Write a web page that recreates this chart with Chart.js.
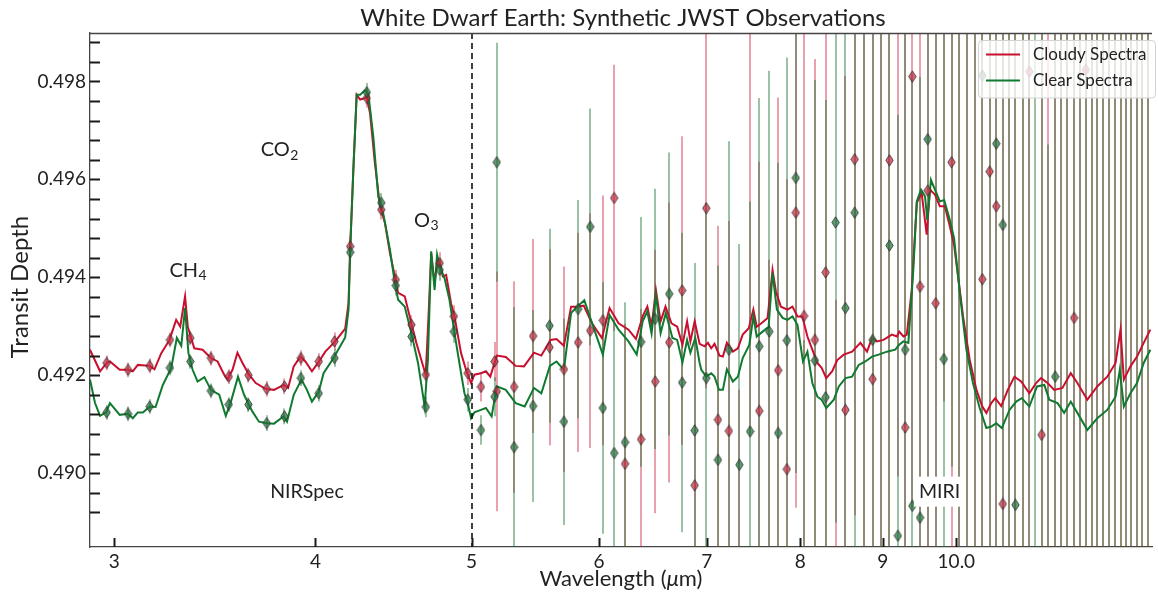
<!DOCTYPE html>
<html>
<head>
<meta charset="utf-8">
<script src="https://cdn.jsdelivr.net/npm/chart.js@4.4.1/dist/chart.umd.min.js"></script>
<style>
	html, body { margin: 0; padding: 0; background: #fff; }
	canvas { display: block; }
</style>
</head>
<body>
<canvas id="spectra" width="1158" height="594"></canvas>
<script>
// model spectra, wavelength in micron / transit depth
const cloudyWave = [
	2.898, 2.940, 2.968, 2.982, 3.024, 3.060, 3.081, 3.103, 3.156, 3.178,
	3.209, 3.247, 3.278, 3.297, 3.320, 3.333, 3.349, 3.364, 3.404, 3.445,
	3.478, 3.511, 3.527, 3.553, 3.578, 3.604, 3.638, 3.673, 3.725, 3.770,
	3.823, 3.847, 3.878, 3.915, 3.943, 3.980, 4.019, 4.057, 4.115, 4.174,
	4.194, 4.204, 4.223, 4.243, 4.264, 4.294, 4.304, 4.325, 4.355, 4.387,
	4.418, 4.450, 4.481, 4.502, 4.545, 4.588, 4.621, 4.654, 4.683, 4.703,
	4.720, 4.743, 4.760, 4.777, 4.799, 4.822, 4.856, 4.880, 4.926, 4.961,
	4.997, 5.021, 5.068, 5.104, 5.136, 5.184, 5.251, 5.326, 5.390, 5.467,
	5.525, 5.598, 5.646, 5.706, 5.765, 5.815, 5.870, 5.940, 6.025, 6.091,
	6.170, 6.258, 6.325, 6.386, 6.429, 6.468, 6.508, 6.552, 6.598, 6.655,
	6.709, 6.760, 6.805, 6.837, 6.879, 6.928, 6.977, 7.011, 7.044, 7.077,
	7.128, 7.162, 7.203, 7.265, 7.317, 7.368, 7.432, 7.481, 7.517, 7.581,
	7.635, 7.689, 7.726, 7.781, 7.855, 7.911, 7.968, 8.024, 8.082, 8.139,
	8.198, 8.248, 8.303, 8.374, 8.434, 8.513, 8.615, 8.718, 8.801, 8.864,
	8.927, 9.011, 9.119, 9.185, 9.215, 9.271, 9.316, 9.382, 9.450, 9.516,
	9.585, 9.629, 9.699, 9.767, 9.837, 9.907, 9.967, 10.025, 10.096, 10.193,
	10.291, 10.378, 10.438, 10.512, 10.572, 10.662, 10.763, 10.866, 10.970, 11.100,
	11.207, 11.286, 11.393, 11.502, 11.637, 11.777, 11.889, 12.059, 12.232, 12.407,
	12.556, 12.645, 12.705, 12.826, 12.947, 13.071, 13.196,
];
const cloudyDepth = [
	0.49252, 0.49208, 0.49225, 0.49228, 0.49211, 0.49211, 0.49208, 0.49221, 0.49219, 0.49212,
	0.49245, 0.49272, 0.49313, 0.49299, 0.49361, 0.49299, 0.49276, 0.49255, 0.49252, 0.49235,
	0.49228, 0.49201, 0.49191, 0.49211, 0.49246, 0.49225, 0.49201, 0.49184, 0.49172, 0.49170,
	0.49180, 0.49174, 0.49218, 0.49238, 0.49228, 0.49208, 0.49227, 0.49248, 0.49269, 0.49295,
	0.49347, 0.49463, 0.49620, 0.49773, 0.49763, 0.49766, 0.49769, 0.49735, 0.49633, 0.49545,
	0.49511, 0.49449, 0.49402, 0.49368, 0.49361, 0.49306, 0.49266, 0.49231, 0.49201, 0.49327,
	0.49449, 0.49388, 0.49429, 0.49432, 0.49402, 0.49405, 0.49347, 0.49320, 0.49245, 0.49211,
	0.49184, 0.49201, 0.49204, 0.49208, 0.49197, 0.49240, 0.49237, 0.49219, 0.49218, 0.49246,
	0.49240, 0.49272, 0.49274, 0.49260, 0.49340, 0.49340, 0.49342, 0.49306, 0.49276, 0.49337,
	0.49306, 0.49293, 0.49274, 0.49320, 0.49340, 0.49299, 0.49374, 0.49310, 0.49340, 0.49306,
	0.49299, 0.49262, 0.49310, 0.49269, 0.49310, 0.49264, 0.49259, 0.49266, 0.49255, 0.49264,
	0.49240, 0.49238, 0.49266, 0.49248, 0.49255, 0.49283, 0.49296, 0.49334, 0.49299, 0.49308,
	0.49317, 0.49415, 0.49371, 0.49340, 0.49334, 0.49340, 0.49320, 0.49320, 0.49279, 0.49252,
	0.49225, 0.49215, 0.49194, 0.49208, 0.49231, 0.49242, 0.49248, 0.49266, 0.49248, 0.49276,
	0.49269, 0.49272, 0.49283, 0.49279, 0.49289, 0.49279, 0.49283, 0.49374, 0.49552, 0.49572,
	0.49487, 0.49579, 0.49569, 0.49545, 0.49545, 0.49504, 0.49466, 0.49402, 0.49320, 0.49231,
	0.49170, 0.49136, 0.49123, 0.49143, 0.49153, 0.49137, 0.49170, 0.49197, 0.49187, 0.49163,
	0.49184, 0.49194, 0.49184, 0.49170, 0.49174, 0.49204, 0.49184, 0.49150, 0.49177, 0.49197,
	0.49225, 0.49293, 0.49191, 0.49218, 0.49238, 0.49266, 0.49293,
];
const clearWave = [
	2.898, 2.919, 2.940, 2.965, 2.982, 3.024, 3.060, 3.081, 3.103, 3.126,
	3.156, 3.183, 3.216, 3.255, 3.281, 3.302, 3.320, 3.336, 3.356, 3.380,
	3.413, 3.445, 3.486, 3.519, 3.545, 3.581, 3.612, 3.655, 3.690, 3.734,
	3.770, 3.823, 3.841, 3.878, 3.921, 3.952, 3.980, 4.019, 4.047, 4.105,
	4.174, 4.194, 4.204, 4.223, 4.243, 4.264, 4.294, 4.314, 4.345, 4.376,
	4.407, 4.450, 4.481, 4.502, 4.545, 4.588, 4.632, 4.676, 4.698, 4.720,
	4.743, 4.760, 4.777, 4.811, 4.845, 4.880, 4.926, 4.950, 4.973, 4.997,
	5.021, 5.068, 5.104, 5.146, 5.184, 5.251, 5.326, 5.395, 5.467, 5.525,
	5.593, 5.646, 5.706, 5.765, 5.815, 5.875, 5.931, 6.033, 6.091, 6.170,
	6.258, 6.332, 6.386, 6.429, 6.468, 6.508, 6.552, 6.601, 6.664, 6.709,
	6.760, 6.805, 6.837, 6.885, 6.928, 6.945, 6.994, 7.044, 7.077, 7.122,
	7.162, 7.203, 7.265, 7.317, 7.368, 7.438, 7.481, 7.517, 7.581, 7.646,
	7.689, 7.737, 7.800, 7.855, 7.911, 7.968, 8.031, 8.082, 8.139, 8.198,
	8.248, 8.303, 8.393, 8.453, 8.534, 8.615, 8.697, 8.780, 8.864, 8.948,
	9.055, 9.163, 9.215, 9.271, 9.337, 9.403, 9.450, 9.507, 9.562, 9.593,
	9.643, 9.699, 9.767, 9.827, 9.907, 9.967, 10.049, 10.145, 10.240, 10.339,
	10.438, 10.512, 10.587, 10.672, 10.789, 10.893, 10.979, 11.100, 11.222, 11.340,
	11.420, 11.556, 11.666, 11.777, 11.889, 12.059, 12.232, 12.407, 12.556, 12.632,
	12.705, 12.826, 12.947, 13.071, 13.196,
];
const clearDepth = [
	0.49191, 0.49143, 0.49117, 0.49124, 0.49143, 0.49119, 0.49121, 0.49112, 0.49124, 0.49124,
	0.49136, 0.49135, 0.49180, 0.49215, 0.49276, 0.49260, 0.49337, 0.49245, 0.49211, 0.49187,
	0.49196, 0.49170, 0.49160, 0.49117, 0.49146, 0.49197, 0.49160, 0.49126, 0.49105, 0.49102,
	0.49101, 0.49116, 0.49105, 0.49160, 0.49191, 0.49170, 0.49146, 0.49166, 0.49204, 0.49235,
	0.49277, 0.49334, 0.49456, 0.49620, 0.49773, 0.49773, 0.49782, 0.49776, 0.49688, 0.49565,
	0.49531, 0.49456, 0.49388, 0.49354, 0.49340, 0.49286, 0.49225, 0.49136, 0.49231, 0.49453,
	0.49374, 0.49446, 0.49422, 0.49398, 0.49354, 0.49286, 0.49204, 0.49163, 0.49143, 0.49112,
	0.49124, 0.49129, 0.49133, 0.49116, 0.49177, 0.49170, 0.49143, 0.49136, 0.49174, 0.49163,
	0.49219, 0.49228, 0.49211, 0.49327, 0.49340, 0.49353, 0.49313, 0.49242, 0.49323, 0.49293,
	0.49269, 0.49242, 0.49310, 0.49330, 0.49285, 0.49364, 0.49286, 0.49327, 0.49276, 0.49272,
	0.49226, 0.49272, 0.49246, 0.49276, 0.49225, 0.49211, 0.49197, 0.49204, 0.49197, 0.49170,
	0.49170, 0.49212, 0.49187, 0.49197, 0.49235, 0.49262, 0.49320, 0.49279, 0.49289, 0.49299,
	0.49409, 0.49334, 0.49317, 0.49313, 0.49320, 0.49303, 0.49228, 0.49248, 0.49184, 0.49156,
	0.49150, 0.49133, 0.49150, 0.49177, 0.49194, 0.49197, 0.49221, 0.49228, 0.49238, 0.49242,
	0.49248, 0.49252, 0.49262, 0.49269, 0.49266, 0.49415, 0.49555, 0.49579, 0.49565, 0.49517,
	0.49599, 0.49579, 0.49555, 0.49558, 0.49517, 0.49480, 0.49368, 0.49252, 0.49184, 0.49133,
	0.49092, 0.49095, 0.49102, 0.49092, 0.49129, 0.49146, 0.49153, 0.49136, 0.49177, 0.49180,
	0.49150, 0.49143, 0.49123, 0.49146, 0.49123, 0.49088, 0.49112, 0.49129, 0.49156, 0.49211,
	0.49136, 0.49163, 0.49184, 0.49225, 0.49252,
];

// synthetic observations: NIRSpec bins then MIRI bins (values off the plot are estimates)
const obsWave = [
	2.968, 3.060, 3.156, 3.249, 3.345, 3.445, 3.534, 3.635, 3.731, 3.827,
	3.918, 4.019, 4.111, 4.204, 4.305, 4.395, 4.487, 4.589, 4.684, 4.778,
	4.876, 4.973, 5.068, 5.168,
	5.184, 5.314, 5.460, 5.590, 5.706, 5.823, 5.925, 6.033, 6.131, 6.227,
	6.371, 6.502, 6.633, 6.757, 6.879, 6.994, 7.112, 7.224, 7.333, 7.446,
	7.545, 7.653, 7.751, 7.848, 7.949, 8.043, 8.169, 8.295, 8.414, 8.534,
	8.647, 8.758, 8.871, 8.982, 9.088, 9.198, 9.294, 9.390, 9.494, 9.598,
	9.708, 9.823, 9.931, 10.039, 10.154, 10.266, 10.378, 10.487, 10.587, 10.686,
	10.789, 10.882, 10.994, 11.100, 11.195, 11.296, 11.404, 11.518, 11.611, 11.721,
	11.833, 11.929, 12.032, 12.134, 12.232, 12.336, 12.436, 12.537, 12.645, 12.746,
	12.844, 12.947, 13.046, 13.151,
];
const obsCloudy = [
	0.49225, 0.49211, 0.49219, 0.49272, 0.49276, 0.49235, 0.49197, 0.49200, 0.49172, 0.49177,
	0.49235, 0.49228, 0.49269, 0.49463, 0.49766, 0.49538, 0.49395, 0.49303, 0.49201, 0.49429,
	0.49320, 0.49204, 0.49176, 0.49228,
	0.49167, 0.49176, 0.49280, 0.49257, 0.49212, 0.49267, 0.49291, 0.49312, 0.49562, 0.49019,
	0.49069, 0.49187, 0.49267, 0.49373, 0.48975, 0.49541, 0.49109, 0.49086, 0.48700, 0.50030,
	0.49127, 0.48823, 0.49210, 0.49008, 0.49532, 0.49321, 0.49272, 0.49410, 0.48741, 0.49129,
	0.49641, 0.48700, 0.49192, 0.50120, 0.49639, 0.49960, 0.49093, 0.49810, 0.49381, 0.49577,
	0.49347, 0.50100, 0.49635, 0.48700, 0.50120, 0.48700, 0.49396, 0.49616, 0.49545, 0.48937,
	0.50120, 0.50120, 0.48700, 0.49820, 0.47400, 0.49078, 0.50120, 0.48700, 0.50120, 0.48700,
	0.49317, 0.50120, 0.49824, 0.48700, 0.50120, 0.48700, 0.50120, 0.48700, 0.50120, 0.48700,
	0.50120, 0.48700, 0.50120, 0.48700,
];
const obsCloudyErr = [
	0.00015, 0.00015, 0.00015, 0.00015, 0.00015, 0.00015, 0.00015, 0.00015, 0.00016, 0.00016,
	0.00016, 0.00017, 0.00018, 0.00018, 0.00019, 0.00020, 0.00020, 0.00020, 0.00021, 0.00022,
	0.00023, 0.00024, 0.00030, 0.00040,
	0.00245, 0.00216, 0.00198, 0.00200, 0.00210, 0.00224, 0.00240, 0.00255, 0.00272, 0.00286,
	0.00266, 0.00269, 0.00286, 0.00315, 0.00337, 0.00368, 0.00396, 0.00429, 0.00470, 0.00950,
	0.00509, 0.00613, 0.00557, 0.00592, 0.00603, 0.00613, 0.00574, 0.00613, 0.00613, 0.00682,
	0.00727, 0.01350, 0.00780, 0.01350, 0.00820, 0.00967, 0.00860, 0.00880, 0.00900, 0.00900,
	0.00920, 0.00954, 0.00960, 0.01350, 0.01350, 0.01350, 0.01020, 0.01040, 0.01060, 0.01100,
	0.01350, 0.01350, 0.01350, 0.01160, 0.01180, 0.01200, 0.01350, 0.01350, 0.01350, 0.01350,
	0.01300, 0.01350, 0.01350, 0.01400, 0.01400, 0.01400, 0.01400, 0.01400, 0.01400, 0.01400,
	0.01400, 0.01400, 0.01400, 0.01400,
];
const obsClear = [
	0.49124, 0.49121, 0.49136, 0.49215, 0.49228, 0.49168, 0.49140, 0.49140, 0.49102, 0.49116,
	0.49194, 0.49163, 0.49235, 0.49451, 0.49778, 0.49552, 0.49383, 0.49279, 0.49135, 0.49415,
	0.49289, 0.49150, 0.49088, 0.49156,
	0.49635, 0.49053, 0.49137, 0.49301, 0.49105, 0.49335, 0.49503, 0.49133, 0.49041, 0.49063,
	0.49268, 0.49315, 0.49366, 0.49185, 0.49087, 0.49194, 0.49027, 0.49252, 0.49017, 0.49085,
	0.49259, 0.49289, 0.49082, 0.49271, 0.49603, 0.48639, 0.49230, 0.49155, 0.49512, 0.49337,
	0.49532, 0.50120, 0.49272, 0.48700, 0.49465, 0.48872, 0.49252, 0.48933, 0.48909, 0.49682,
	0.48700, 0.49233, 0.50000, 0.50120, 0.48700, 0.50120, 0.49812, 0.48700, 0.49673, 0.49507,
	0.48700, 0.48935, 0.50120, 0.48700, 0.48800, 0.50120, 0.48700, 0.49197, 0.48700, 0.50120,
	0.50120, 0.48700, 0.48700, 0.50120, 0.48700, 0.50120, 0.48700, 0.50120, 0.48700, 0.50120,
	0.48700, 0.50120, 0.48700, 0.50120,
];
const obsClearErr = [
	0.00015, 0.00015, 0.00015, 0.00015, 0.00015, 0.00015, 0.00015, 0.00015, 0.00016, 0.00016,
	0.00016, 0.00017, 0.00018, 0.00018, 0.00019, 0.00020, 0.00020, 0.00020, 0.00021, 0.00022,
	0.00023, 0.00024, 0.00030, 0.00040,
	0.00244, 0.00286, 0.00196, 0.00198, 0.00211, 0.00223, 0.00242, 0.00257, 0.00272, 0.00286,
	0.00255, 0.00266, 0.00289, 0.00306, 0.00342, 0.00358, 0.00397, 0.00426, 0.00451, 0.00470,
	0.00507, 0.00533, 0.00552, 0.00578, 0.00603, 0.00633, 0.00573, 0.00607, 0.00613, 0.00654,
	0.00735, 0.01350, 0.00780, 0.01350, 0.00820, 0.00860, 0.00860, 0.00880, 0.00900, 0.00900,
	0.01350, 0.00940, 0.00987, 0.01350, 0.01350, 0.01350, 0.01020, 0.01350, 0.01060, 0.01100,
	0.01350, 0.01120, 0.01350, 0.01350, 0.01350, 0.01350, 0.00971, 0.01240, 0.01350, 0.01350,
	0.01350, 0.01350, 0.01350, 0.01400, 0.01400, 0.01400, 0.01400, 0.01400, 0.01400, 0.01400,
	0.01400, 0.01400, 0.01400, 0.01400,
];

// axes
const waveTicks = [ 3, 4, 5, 6, 7, 8, 9, 10 ];
const waveTickLabels = [ '3', '4', '5', '6', '7', '8', '9', '10.0' ];
const depthTicks = [ 0.490, 0.492, 0.494, 0.496, 0.498 ];
const depthMinorStep = 0.0004;

const CLOUDY = '#c8102e';
const CLEAR = '#0f7a2f';
const FONT = 'Lato';

/**
 * Thin diamond marker drawn on a small canvas, used as pointStyle.
 * @param {string} fill - Fill colour.
 * @return {HTMLCanvasElement} marker image
 */
function diamondImage( fill ) {
	const c = document.createElement( 'canvas' );
	c.width = 9;
	c.height = 13;
	const g = c.getContext( '2d' );
	g.beginPath();
	g.moveTo( 4.5, 0.8 );
	g.lineTo( 8.2, 6.5 );
	g.lineTo( 4.5, 12.2 );
	g.lineTo( 0.8, 6.5 );
	g.closePath();
	g.fillStyle = fill;
	g.fill();
	g.strokeStyle = 'rgba(45,45,45,0.8)';
	g.lineWidth = 1;
	g.stroke();
	return c;
}

const toPoints = ( xs, ys ) => xs.map( ( x, i ) => ( { x: x, y: ys[ i ] } ) );

// vertical error bars under everything else
const errorBars = {
	id: 'errorBars',
	beforeDatasetsDraw( chart ) {
		const { ctx, chartArea: a, scales } = chart;
		ctx.save();
		ctx.beginPath();
		ctx.rect( a.left, a.top, a.right - a.left, a.bottom - a.top );
		ctx.clip();
		ctx.lineWidth = 2;
		const sets = [
			[ obsCloudy, obsCloudyErr, 'rgba(200,20,50,0.4)' ],
			[ obsClear, obsClearErr, 'rgba(20,110,40,0.42)' ],
		];
		sets.forEach( ( [ vals, errs, col ] ) => {
			ctx.strokeStyle = col;
			obsWave.forEach( ( w, i ) => {
				const px = Math.round( scales.x.getPixelForValue( w ) );
				ctx.beginPath();
				ctx.moveTo( px, scales.y.getPixelForValue( vals[ i ] - errs[ i ] ) );
				ctx.lineTo( px, scales.y.getPixelForValue( vals[ i ] + errs[ i ] ) );
				ctx.stroke();
			} );
		} );
		ctx.restore();
	},
};

function drawChem( ctx, base, sub, cx, cy ) {
	ctx.font = '20px ' + FONT;
	const w1 = ctx.measureText( base ).width;
	ctx.font = '14px ' + FONT;
	const w2 = ctx.measureText( sub ).width;
	const x0 = cx - ( w1 + w2 ) / 2;
	ctx.textAlign = 'left';
	ctx.textBaseline = 'middle';
	ctx.font = '20px ' + FONT;
	ctx.fillText( base, x0, cy );
	ctx.font = '14px ' + FONT;
	ctx.fillText( sub, x0 + w1 + 0.5, cy + 5 );
}

// dashed divider, labels, ticks, title and legend
const decorations = {
	id: 'decorations',
	afterDatasetsDraw( chart ) {
		const { ctx, chartArea: a, scales } = chart;
		const X = v => scales.x.getPixelForValue( v );
		const Y = v => scales.y.getPixelForValue( v );
		ctx.save();

		// NIRSpec / MIRI boundary
		ctx.strokeStyle = '#111';
		ctx.lineWidth = 1.6;
		ctx.setLineDash( [ 6, 4 ] );
		ctx.beginPath();
		ctx.moveTo( Math.round( X( 5 ) ), a.top );
		ctx.lineTo( Math.round( X( 5 ) ), a.bottom );
		ctx.stroke();
		ctx.setLineDash( [] );

		ctx.fillStyle = '#222';
		drawChem( ctx, 'CH', '4', X( 3.333 ), Y( 0.49413 ) );
		drawChem( ctx, 'CO', '2', X( 3.799 ), Y( 0.49660 ) );
		drawChem( ctx, 'O', '3', X( 4.685 ), Y( 0.49515 ) );

		ctx.font = '19.5px ' + FONT;
		ctx.textAlign = 'center';
		ctx.textBaseline = 'middle';
		ctx.fillText( 'NIRSpec', X( 3.952 ), Y( 0.48962 ) );

		const mx = X( 9.763 );
		const my = Y( 0.48962 );
		const mw = ctx.measureText( 'MIRI' ).width;
		ctx.fillStyle = '#fff';
		ctx.fillRect( mx - mw / 2 - 5, my - 15, mw + 10, 30 );
		ctx.fillStyle = '#222';
		ctx.fillText( 'MIRI', mx, my );
		ctx.restore();
	},
	afterDraw( chart ) {
		const { ctx, chartArea: a, scales } = chart;
		const X = v => scales.x.getPixelForValue( v );
		const Y = v => scales.y.getPixelForValue( v );
		ctx.save();

		// top spine
		ctx.strokeStyle = '#444';
		ctx.lineWidth = 1.3;
		ctx.beginPath();
		ctx.moveTo( a.left, a.top + 0.5 );
		ctx.lineTo( a.right, a.top + 0.5 );
		ctx.stroke();

		// inward tick marks
		ctx.strokeStyle = '#1a1a1a';
		ctx.lineWidth = 2;
		for ( let v = depthTicks[ 0 ] - 2 * depthMinorStep; v < scales.y.max; v += depthMinorStep ) {
			if ( v < scales.y.min ) {
				continue;
			}
			const py = Math.round( Y( v ) ) + 0.5;
			ctx.beginPath();
			ctx.moveTo( a.left, py );
			ctx.lineTo( a.left + 10, py );
			ctx.stroke();
		}
		waveTicks.forEach( w => {
			const px = Math.round( X( w ) ) + 0.5;
			ctx.beginPath();
			ctx.moveTo( px, a.bottom );
			ctx.lineTo( px, a.bottom - 9 );
			ctx.stroke();
		} );

		// title and axis labels
		ctx.fillStyle = '#222';
		ctx.textAlign = 'center';
		ctx.textBaseline = 'middle';
		ctx.font = '24px ' + FONT;
		ctx.fillText( 'White Dwarf Earth: Synthetic JWST Observations', ( a.left + a.right ) / 2 + 2, 18 );

		ctx.save();
		ctx.translate( 20, ( a.top + a.bottom ) / 2 - 3 );
		ctx.rotate( -Math.PI / 2 );
		ctx.font = '24px ' + FONT;
		ctx.fillText( 'Transit Depth', 0, 0 );
		ctx.restore();

		const parts = [
			[ 'Wavelength (', '22px ' + FONT ],
			[ 'μ', 'italic 22px ' + FONT ],
			[ 'm)', '22px ' + FONT ],
		];
		let total = 0;
		parts.forEach( p => {
			ctx.font = p[ 1 ];
			total += ctx.measureText( p[ 0 ] ).width;
		} );
		let lx = ( a.left + a.right ) / 2 - total / 2;
		ctx.textAlign = 'left';
		parts.forEach( p => {
			ctx.font = p[ 1 ];
			ctx.fillText( p[ 0 ], lx, 579 );
			lx += ctx.measureText( p[ 0 ] ).width;
		} );

		// legend
		const bx = 978.5;
		const by = 40.5;
		ctx.beginPath();
		ctx.roundRect( bx, by, 177, 57.5, 4 );
		ctx.fillStyle = 'rgba(255,255,255,0.8)';
		ctx.fill();
		ctx.strokeStyle = '#d2d2d2';
		ctx.lineWidth = 1;
		ctx.stroke();
		chart.data.datasets.slice( 0, 2 ).forEach( ( ds, i ) => {
			const ly = 54.5 + i * 26;
			ctx.strokeStyle = ds.borderColor;
			ctx.lineWidth = 2;
			ctx.beginPath();
			ctx.moveTo( 986, ly );
			ctx.lineTo( 1020, ly );
			ctx.stroke();
			ctx.fillStyle = '#222';
			ctx.font = '17px ' + FONT;
			ctx.textAlign = 'left';
			ctx.fillText( ds.label, 1033, ly );
		} );
		ctx.restore();
	},
};

// eslint-disable-next-line no-new
new Chart( document.getElementById( 'spectra' ), {
	type: 'scatter',
	data: {
		datasets: [
			{
				label: 'Cloudy Spectra',
				data: toPoints( cloudyWave, cloudyDepth ),
				showLine: true,
				borderColor: CLOUDY,
				borderWidth: 2,
				pointRadius: 0,
				order: 3,
			},
			{
				label: 'Clear Spectra',
				data: toPoints( clearWave, clearDepth ),
				showLine: true,
				borderColor: CLEAR,
				borderWidth: 2,
				pointRadius: 0,
				order: 2,
			},
			{
				label: 'Cloudy obs',
				data: toPoints( obsWave, obsCloudy ),
				showLine: false,
				pointStyle: diamondImage( 'rgba(200,45,65,0.72)' ),
				pointRadius: 5,
				order: 1,
			},
			{
				label: 'Clear obs',
				data: toPoints( obsWave, obsClear ),
				showLine: false,
				pointStyle: diamondImage( 'rgba(35,115,60,0.72)' ),
				pointRadius: 5,
				order: 0,
			},
		],
	},
	options: {
		responsive: false,
		animation: false,
		events: [],
		layout: { padding: { top: 33, right: 0, bottom: 0, left: 0 } },
		plugins: {
			legend: { display: false },
			tooltip: { enabled: false },
		},
		scales: {
			x: {
				type: 'logarithmic',
				min: 2.8981,
				max: 13.227,
				bounds: 'data',
				afterBuildTicks: scale => {
					scale.ticks = waveTicks.map( v => ( { value: v } ) );
				},
				afterFit: scale => {
					scale.height = 47;
					scale.paddingLeft = 0;
					scale.paddingRight = 0;
				},
				grid: { display: false, drawTicks: false },
				border: { color: '#444', width: 1.3 },
				ticks: {
					autoSkip: false,
					maxRotation: 0,
					padding: 3,
					color: '#222',
					font: { family: FONT, size: 19 },
					callback: v => waveTickLabels[ waveTicks.indexOf( v ) ],
				},
			},
			y: {
				min: 0.48849,
				max: 0.49899,
				afterBuildTicks: scale => {
					scale.ticks = depthTicks.map( v => ( { value: v } ) );
				},
				afterFit: scale => {
					scale.width = 90;
					scale.paddingTop = 0;
					scale.paddingBottom = 0;
				},
				grid: { display: false, drawTicks: false },
				border: { color: '#444', width: 1.3 },
				ticks: {
					padding: 4,
					color: '#222',
					font: { family: FONT, size: 19 },
					callback: v => v.toFixed( 3 ),
				},
			},
		},
	},
	plugins: [ errorBars, decorations ],
} );
</script>
</body>
</html>
